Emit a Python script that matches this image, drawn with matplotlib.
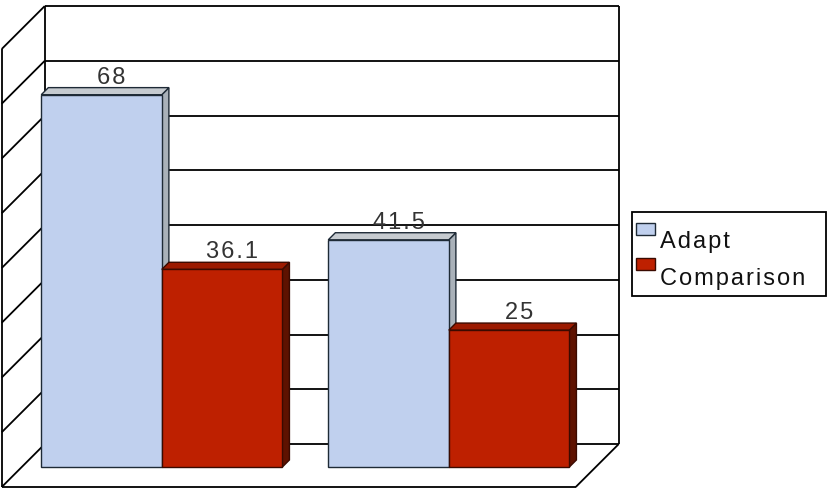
import matplotlib.pyplot as plt
from matplotlib.patches import Polygon, Rectangle

# data
categories = ["A", "B"]
series = ["Adapt", "Comparison"]
adapt = [68, 41.5]
comparison = [36.1, 25]
vmax = 80
step = 10

face_cols = ["#C0D0EE", "#BE2000"]
top_cols = ["#C6CBD0", "#9C1A00"]
side_cols = ["#A9B1B9", "#5E1200"]
edge_cols = ["#1E2A36", "#3A0A00"]

# oblique projection: depth d from 0 (front) to 1 (back)
DX = 0.15
DY = 7.85
W = 0.42
d0, d1 = 0.465, 0.63
FONT = ["Liberation Sans", "DejaVu Sans"]


def proj(x, v, d):
    return (x + d * DX, v + d * DY)


def spaced(s):
    # the original uses wide letter spacing
    return "\u200a".join(s)


fig = plt.figure(figsize=(8.32, 4.92), dpi=100)
ax = fig.add_axes([0, 0, 1, 1])
ax.set_xlim(-0.006, 2.893)
ax.set_ylim(-0.91, 88.95)
ax.axis("off")

nc = len(categories)
lk = dict(color="black", lw=1.3, zorder=1, solid_capstyle="butt")

# walls and floor
ax.add_patch(Polygon([proj(0, 0, 1), proj(nc, 0, 1), proj(nc, vmax, 1), proj(0, vmax, 1)],
                     closed=True, fc="white", ec="none", zorder=0))
for v in range(0, vmax + 1, step):
    p, q = proj(0, v, 1), proj(nc, v, 1)
    ax.plot([p[0], q[0]], [p[1], q[1]], **lk)
    p, q = proj(0, v, 0), proj(0, v, 1)
    ax.plot([p[0], q[0]], [p[1], q[1]], **lk)
for a, b in [((0, 0, 0), (0, vmax, 0)), ((0, 0, 1), (0, vmax, 1)),
             ((nc, 0, 1), (nc, vmax, 1)), ((0, 0, 0), (nc, 0, 0)),
             ((nc, 0, 0), (nc, 0, 1))]:
    p, q = proj(*a), proj(*b)
    ax.plot([p[0], q[0]], [p[1], q[1]], **lk)

# bars
values = [adapt, comparison]
z = 3
for c in range(nc):
    for s in range(len(series)):
        v = values[s][c]
        x0 = c + 0.5 - W + s * W - 0.012
        x1 = x0 + W
        front = [proj(x0, 0, d0), proj(x1, 0, d0), proj(x1, v, d0), proj(x0, v, d0)]
        top = [proj(x0, v, d0), proj(x1, v, d0), proj(x1, v, d1), proj(x0, v, d1)]
        side = [proj(x1, 0, d0), proj(x1, 0, d1), proj(x1, v, d1), proj(x1, v, d0)]
        for pts, col in [(side, side_cols[s]), (top, top_cols[s]), (front, face_cols[s])]:
            ax.add_patch(Polygon(pts, closed=True, fc=col, ec=edge_cols[s],
                                 lw=1.0, zorder=z))
        z += 1
        ax.text(x0 + W / 2 + d0 * DX + 0.035, v + d1 * DY - 0.2, spaced("%g" % v),
                ha="center", va="bottom", fontsize=17, color="#333333",
                family=FONT, zorder=20)

# legend
ax.add_patch(Rectangle((0.760, 0.398), 0.233, 0.171, transform=ax.transAxes,
                       fc="white", ec="black", lw=1.3, zorder=30))
ys = [0.5224, 0.4512]
tys = [0.496, 0.4207]
for s in range(len(series)):
    ax.add_patch(Rectangle((0.7644, ys[s]), 0.0228, 0.0244, transform=ax.transAxes,
                           fc=face_cols[s], ec=edge_cols[s], lw=1.0, zorder=31))
    ax.text(0.793, tys[s], spaced(series[s]), transform=ax.transAxes, ha="left",
            va="baseline", fontsize=17, color="#111111",
            family=FONT, zorder=31)

fig.savefig("out.png", dpi=100)
